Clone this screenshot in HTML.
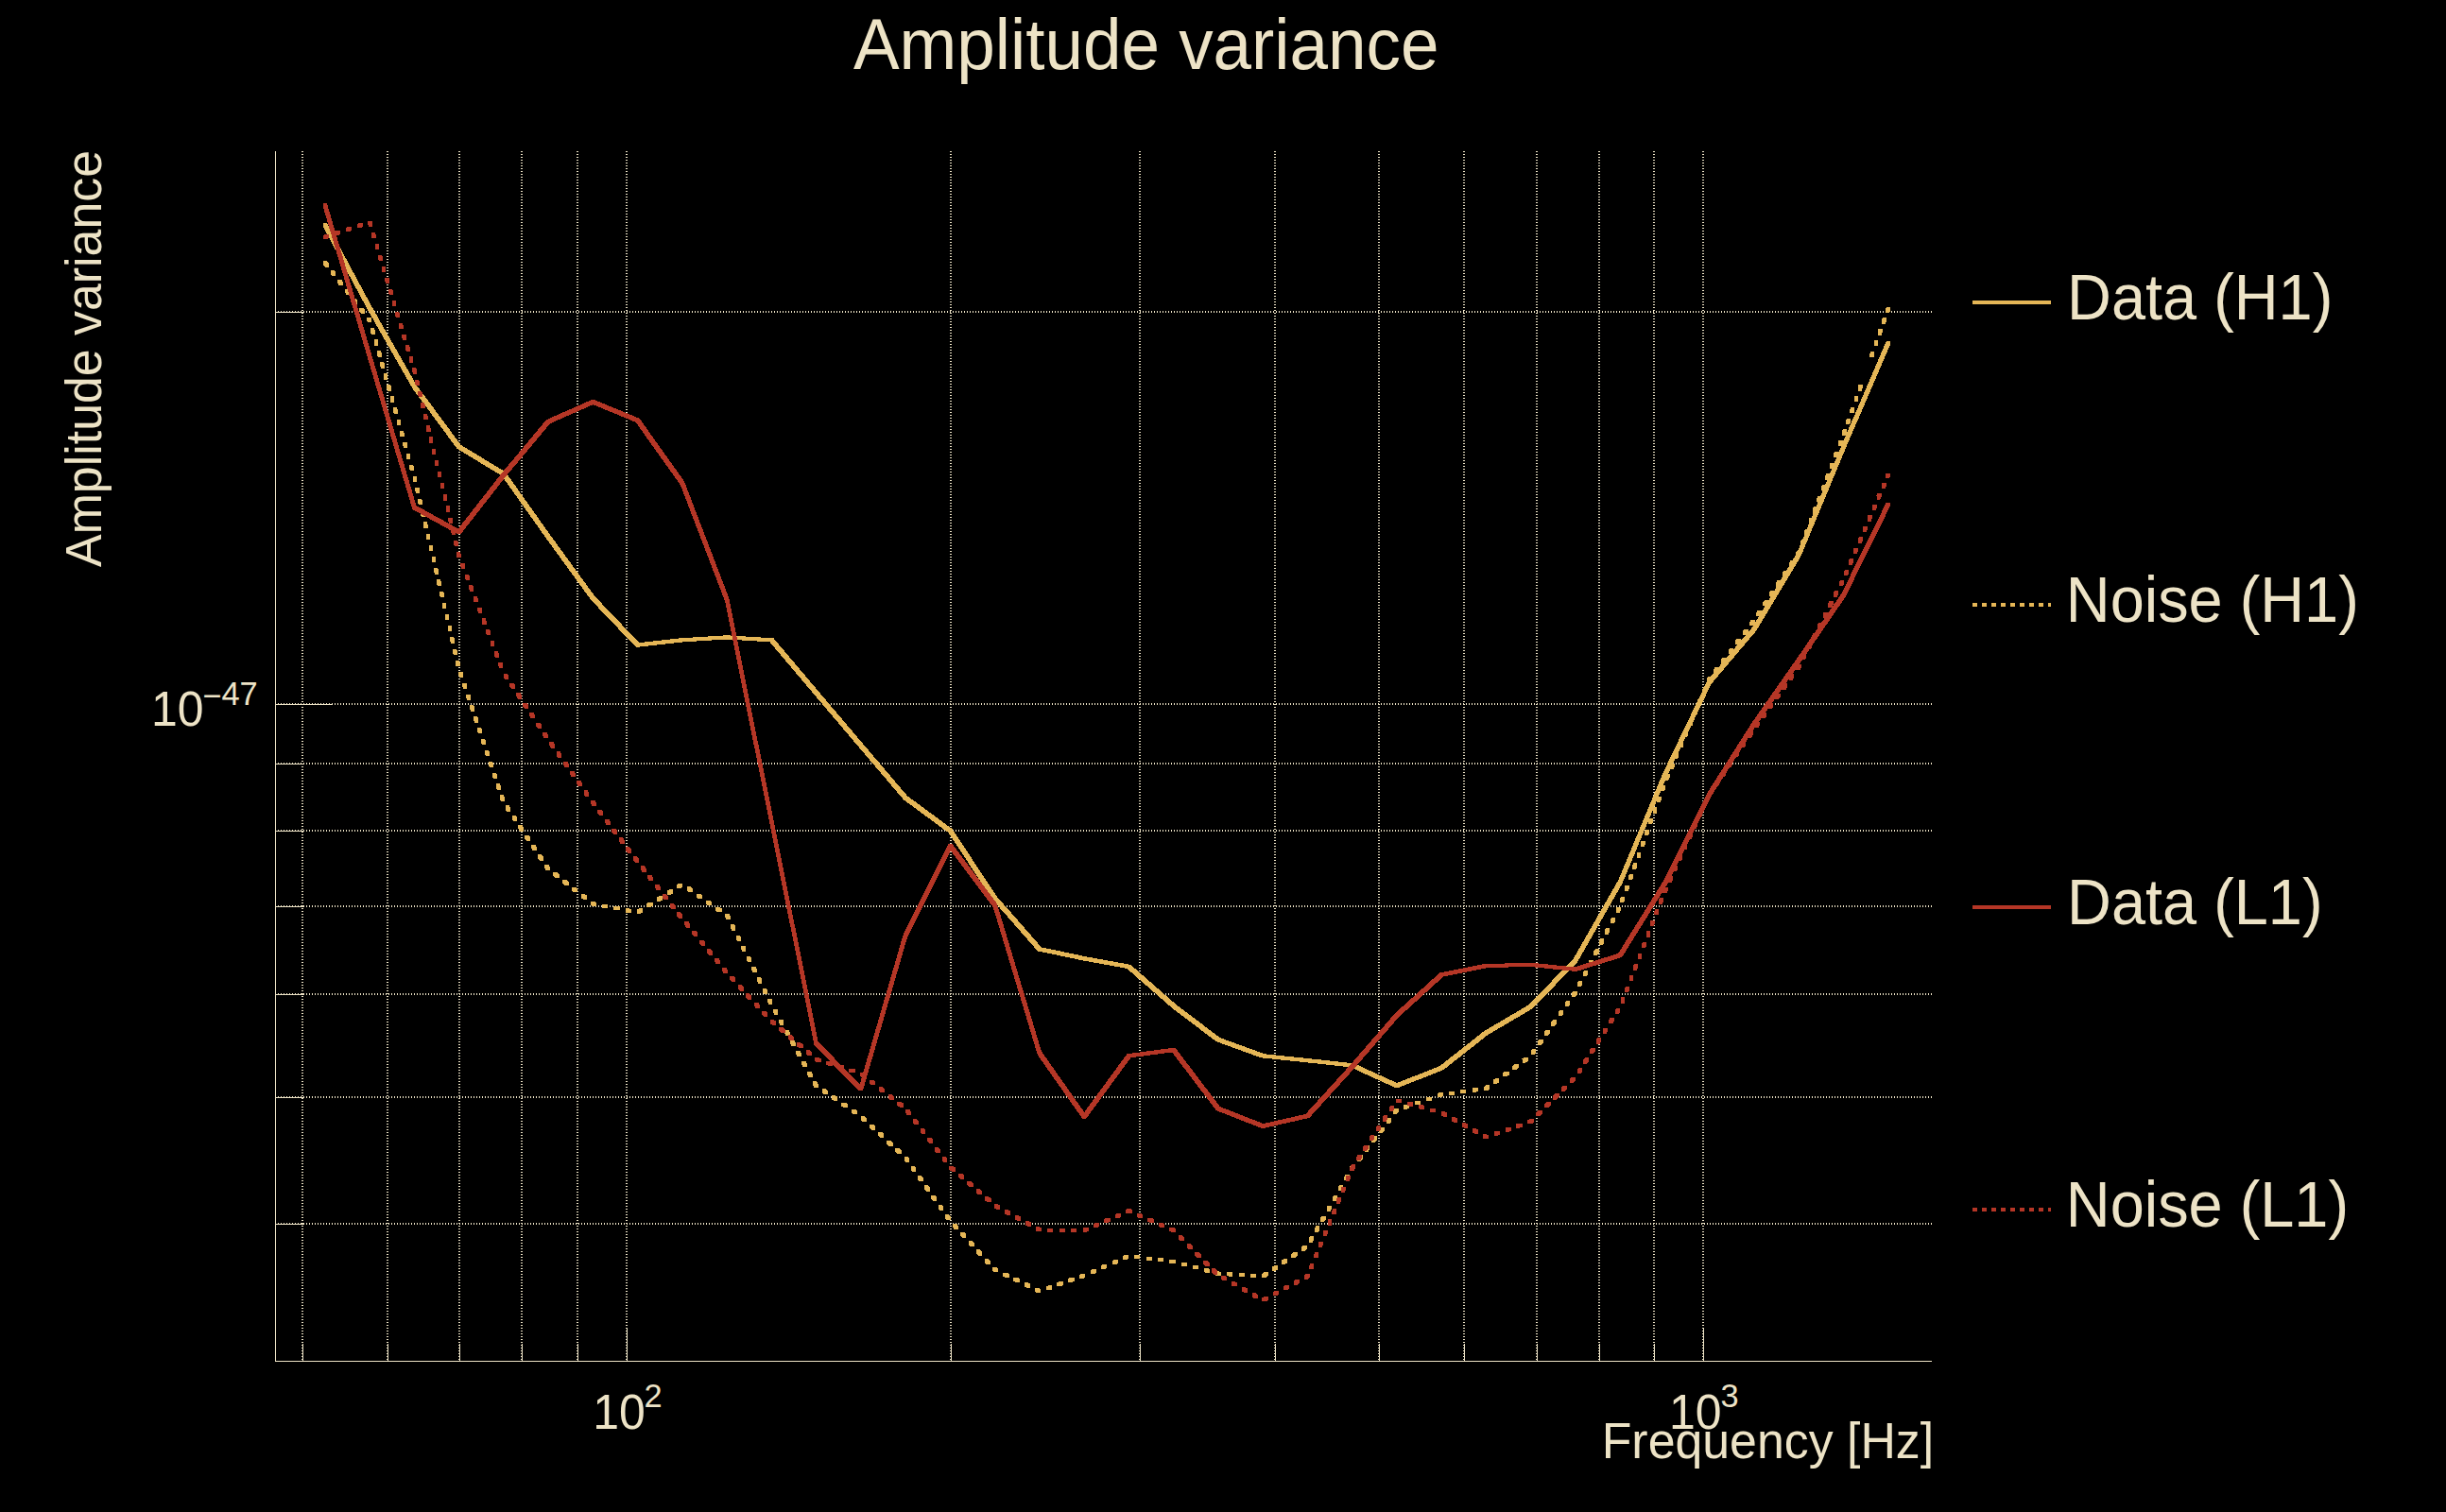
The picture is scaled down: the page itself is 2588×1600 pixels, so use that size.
<!DOCTYPE html>
<html lang="en"><head><meta charset="utf-8"><title>Amplitude variance</title>
<style>
html,body{margin:0;padding:0;background:#000;}
body{width:2588px;height:1600px;overflow:hidden;}
svg{display:block;}
text{font-family:"Liberation Sans",sans-serif;fill:#ede3c6;}
.g{stroke:#ede3c6;stroke-width:2;stroke-dasharray:1 2;fill:none;}
.a{stroke:#ede3c6;stroke-width:1;fill:none;}
.c{fill:none;stroke-width:4;stroke-linejoin:miter;stroke-linecap:butt;}
.d{stroke-dasharray:6.2 6.4;}
</style></head>
<body>
<svg width="2588" height="1600" viewBox="0 0 2588 1600" shape-rendering="crispEdges">
<rect width="2588" height="1600" fill="#000"/>
<g class="g">
<line x1="320" y1="160" x2="320" y2="1440"/>
<line x1="410" y1="160" x2="410" y2="1440"/>
<line x1="486" y1="160" x2="486" y2="1440"/>
<line x1="552" y1="160" x2="552" y2="1440"/>
<line x1="611" y1="160" x2="611" y2="1440"/>
<line x1="663" y1="160" x2="663" y2="1440"/>
<line x1="1006" y1="160" x2="1006" y2="1440"/>
<line x1="1206" y1="160" x2="1206" y2="1440"/>
<line x1="1349" y1="160" x2="1349" y2="1440"/>
<line x1="1459" y1="160" x2="1459" y2="1440"/>
<line x1="1549" y1="160" x2="1549" y2="1440"/>
<line x1="1626" y1="160" x2="1626" y2="1440"/>
<line x1="1692" y1="160" x2="1692" y2="1440"/>
<line x1="1750" y1="160" x2="1750" y2="1440"/>
<line x1="1802" y1="160" x2="1802" y2="1440"/>
<line x1="291" y1="330" x2="2044" y2="330"/>
<line x1="291" y1="745" x2="2044" y2="745"/>
<line x1="291" y1="808" x2="2044" y2="808"/>
<line x1="291" y1="879" x2="2044" y2="879"/>
<line x1="291" y1="959" x2="2044" y2="959"/>
<line x1="291" y1="1052" x2="2044" y2="1052"/>
<line x1="291" y1="1161" x2="2044" y2="1161"/>
<line x1="291" y1="1295" x2="2044" y2="1295"/>
</g>
<g class="a">
<line x1="291.5" y1="160" x2="291.5" y2="1441"/>
<line x1="291" y1="1440.5" x2="2044" y2="1440.5"/>
<line x1="320.5" y1="1422" x2="320.5" y2="1440"/>
<line x1="410.5" y1="1422" x2="410.5" y2="1440"/>
<line x1="486.5" y1="1422" x2="486.5" y2="1440"/>
<line x1="552.5" y1="1422" x2="552.5" y2="1440"/>
<line x1="611.5" y1="1422" x2="611.5" y2="1440"/>
<line x1="663.5" y1="1405" x2="663.5" y2="1440"/>
<line x1="1006.5" y1="1422" x2="1006.5" y2="1440"/>
<line x1="1206.5" y1="1422" x2="1206.5" y2="1440"/>
<line x1="1349.5" y1="1422" x2="1349.5" y2="1440"/>
<line x1="1459.5" y1="1422" x2="1459.5" y2="1440"/>
<line x1="1549.5" y1="1422" x2="1549.5" y2="1440"/>
<line x1="1626.5" y1="1422" x2="1626.5" y2="1440"/>
<line x1="1692.5" y1="1422" x2="1692.5" y2="1440"/>
<line x1="1750.5" y1="1422" x2="1750.5" y2="1440"/>
<line x1="1802.5" y1="1405" x2="1802.5" y2="1440"/>
<line x1="291" y1="330.5" x2="322" y2="330.5"/>
<line x1="291" y1="745.5" x2="352" y2="745.5"/>
<line x1="291" y1="808.5" x2="322" y2="808.5"/>
<line x1="291" y1="879.5" x2="322" y2="879.5"/>
<line x1="291" y1="959.5" x2="322" y2="959.5"/>
<line x1="291" y1="1052.5" x2="322" y2="1052.5"/>
<line x1="291" y1="1161.5" x2="322" y2="1161.5"/>
<line x1="291" y1="1295.5" x2="322" y2="1295.5"/>
</g>
<path fill="#e5b656" d="M341.9,236.1L345.9,236.1L393.1,324L393.1,328L389.1,328L341.9,240.1ZM389.1,324L393.1,324L440.4,407L440.4,411L436.4,411L389.1,328ZM436.4,407L440.4,407L487.6,470.8L487.6,474.8L483.6,474.8L436.4,411ZM483.6,470.8L487.6,470.8L534.9,499.5L534.9,503.5L530.9,503.5L483.6,474.8ZM530.9,499.5L534.9,499.5L582.1,566L582.1,570L578.1,570L530.9,503.5ZM578.1,566L582.1,566L629.4,631L629.4,635L625.4,635L578.1,570ZM625.4,631L629.4,631L676.6,680.5L676.6,684.5L672.6,684.5L625.4,635ZM672.6,680.5L719.9,675.3L723.9,675.3L723.9,679.3L676.6,684.5L672.6,684.5ZM719.9,675.3L767.1,672.4L771.1,672.4L771.1,676.4L723.9,679.3L719.9,679.3ZM767.1,672.4L771.1,672.4L818.4,675.3L818.4,679.3L814.4,679.3L767.1,676.4ZM814.4,675.3L818.4,675.3L865.6,731.1L865.6,735.1L861.6,735.1L814.4,679.3ZM861.6,731.1L865.6,731.1L912.9,786.9L912.9,790.9L908.9,790.9L861.6,735.1ZM908.9,786.9L912.9,786.9L960.1,842.3L960.1,846.3L956.1,846.3L908.9,790.9ZM956.1,842.3L960.1,842.3L1007.4,877.1L1007.4,881.1L1003.4,881.1L956.1,846.3ZM1003.4,877.1L1007.4,877.1L1054.7,948.6L1054.7,952.6L1050.7,952.6L1003.4,881.1ZM1050.7,948.6L1054.7,948.6L1101.9,1002.4L1101.9,1006.4L1097.9,1006.4L1050.7,952.6ZM1097.9,1002.4L1101.9,1002.4L1149.2,1012.3L1149.2,1016.3L1145.2,1016.3L1097.9,1006.4ZM1145.2,1012.3L1149.2,1012.3L1196.4,1020.9L1196.4,1024.9L1192.4,1024.9L1145.2,1016.3ZM1192.4,1020.9L1196.4,1020.9L1243.7,1062.4L1243.7,1066.4L1239.7,1066.4L1192.4,1024.9ZM1239.7,1062.4L1243.7,1062.4L1290.9,1098.2L1290.9,1102.2L1286.9,1102.2L1239.7,1066.4ZM1286.9,1098.2L1290.9,1098.2L1338.2,1115.3L1338.2,1119.3L1334.2,1119.3L1286.9,1102.2ZM1334.2,1115.3L1338.2,1115.3L1385.4,1120.2L1385.4,1124.2L1381.4,1124.2L1334.2,1119.3ZM1381.4,1120.2L1385.4,1120.2L1432.7,1125.3L1432.7,1129.3L1428.7,1129.3L1381.4,1124.2ZM1428.7,1125.3L1432.7,1125.3L1479.9,1146.8L1479.9,1150.8L1475.9,1150.8L1428.7,1129.3ZM1475.9,1146.8L1523.2,1128.2L1527.2,1128.2L1527.2,1132.2L1479.9,1150.8L1475.9,1150.8ZM1523.2,1128.2L1570.4,1091L1574.4,1091L1574.4,1095L1527.2,1132.2L1523.2,1132.2ZM1570.4,1091L1617.7,1063.2L1621.7,1063.2L1621.7,1067.2L1574.4,1095L1570.4,1095ZM1617.7,1063.2L1664.9,1014.3L1668.9,1014.3L1668.9,1018.3L1621.7,1067.2L1617.7,1067.2ZM1664.9,1014.3L1712.2,931.5L1716.2,931.5L1716.2,935.5L1668.9,1018.3L1664.9,1018.3ZM1712.2,931.5L1759.4,818.1L1763.4,818.1L1763.4,822.1L1716.2,935.5L1712.2,935.5ZM1759.4,818.1L1806.7,719.7L1810.7,719.7L1810.7,723.7L1763.4,822.1L1759.4,822.1ZM1806.7,719.7L1853.9,663.9L1857.9,663.9L1857.9,667.9L1810.7,723.7L1806.7,723.7ZM1853.9,663.9L1901.2,585.2L1905.2,585.2L1905.2,589.2L1857.9,667.9L1853.9,667.9ZM1901.2,585.2L1948.4,471.4L1952.4,471.4L1952.4,475.4L1905.2,589.2L1901.2,589.2ZM1948.4,471.4L1995.7,361.2L1999.7,361.2L1999.7,365.2L1952.4,475.4L1948.4,475.4Z"/>
<path fill="#e5b656" d="M341.9,276.2L345.9,276.2L347.7,278.5L347.7,282.5L343.7,282.5L341.9,280.2ZM349.6,286.1L353.6,286.1L355.4,288.4L355.4,292.4L351.4,292.4L349.6,290.1ZM357.3,296L361.3,296L363.1,298.3L363.1,302.3L359.1,302.3L357.3,300ZM365,305.8L369,305.8L370.8,308.1L370.8,312.1L366.8,312.1L365,309.8ZM372.6,315.7L376.6,315.7L378.4,318L378.4,322L374.4,322L372.6,319.7ZM380.3,325.6L384.3,325.6L386.1,327.9L386.1,331.9L382.1,331.9L380.3,329.6ZM388,335.5L392,335.5L393.1,336.9L393.1,340.9L389.1,340.9L388,339.5ZM389.1,336.9L393.1,336.9L393.3,337.4L393.3,341.4L389.3,341.4L389.1,340.9ZM392.1,347.2L396.1,347.2L396.7,349.5L396.7,353.5L392.7,353.5L392.1,351.2ZM395.5,359.2L399.5,359.2L400.2,361.5L400.2,365.5L396.2,365.5L395.5,363.2ZM398.9,371.2L402.9,371.2L403.6,373.5L403.6,377.5L399.6,377.5L398.9,375.2ZM402.4,383.3L406.4,383.3L407,385.6L407,389.6L403,389.6L402.4,387.3ZM405.8,395.3L409.8,395.3L410.4,397.6L410.4,401.6L406.4,401.6L405.8,399.3ZM409.2,407.4L413.2,407.4L413.9,409.7L413.9,413.7L409.9,413.7L409.2,411.4ZM412.6,419.4L416.6,419.4L417.3,421.7L417.3,425.7L413.3,425.7L412.6,423.4ZM416.1,431.4L420.1,431.4L420.7,433.7L420.7,437.7L416.7,437.7L416.1,435.4ZM419.5,443.5L423.5,443.5L424.1,445.8L424.1,449.8L420.1,449.8L419.5,447.5ZM422.9,455.5L426.9,455.5L427.6,457.8L427.6,461.8L423.6,461.8L422.9,459.5ZM426.3,467.5L430.3,467.5L431,469.8L431,473.8L427,473.8L426.3,471.5ZM429.8,479.6L433.8,479.6L434.4,481.9L434.4,485.9L430.4,485.9L429.8,483.6ZM433.2,491.6L437.2,491.6L437.8,493.9L437.8,497.9L433.8,497.9L433.2,495.6ZM436.6,503.7L440.6,503.7L441.1,506L441.1,510L437.1,510L436.6,507.7ZM439.4,515.9L443.4,515.9L444,518.2L444,522.2L440,522.2L439.4,519.9ZM442.3,528L446.3,528L446.8,530.3L446.8,534.3L442.8,534.3L442.3,532ZM445.1,540.2L449.1,540.2L449.6,542.5L449.6,546.5L445.6,546.5L445.1,544.2ZM448,552.4L452,552.4L452.5,554.7L452.5,558.7L448.5,558.7L448,556.4ZM450.8,564.6L454.8,564.6L455.3,566.9L455.3,570.9L451.3,570.9L450.8,568.6ZM453.6,576.8L457.6,576.8L458.2,579.1L458.2,583.1L454.2,583.1L453.6,580.8ZM456.5,589L460.5,589L461,591.3L461,595.3L457,595.3L456.5,593ZM459.3,601.2L463.3,601.2L463.9,603.5L463.9,607.5L459.9,607.5L459.3,605.2ZM462.2,613.4L466.2,613.4L466.7,615.7L466.7,619.7L462.7,619.7L462.2,617.4ZM465,625.5L469,625.5L469.6,627.8L469.6,631.8L465.6,631.8L465,629.5ZM467.9,637.7L471.9,637.7L472.4,640L472.4,644L468.4,644L467.9,641.7ZM470.7,649.9L474.7,649.9L475.2,652.2L475.2,656.2L471.2,656.2L470.7,653.9ZM473.5,662.1L477.5,662.1L478.1,664.4L478.1,668.4L474.1,668.4L473.5,666.1ZM476.4,674.3L480.4,674.3L480.9,676.6L480.9,680.6L476.9,680.6L476.4,678.3ZM479.2,686.5L483.2,686.5L483.8,688.8L483.8,692.8L479.8,692.8L479.2,690.5ZM482.1,698.7L486.1,698.7L486.6,701L486.6,705L482.6,705L482.1,702.7ZM485.4,710.7L489.4,710.7L490.2,713L490.2,717L486.2,717L485.4,714.7ZM489.4,722.6L493.4,722.6L494.2,724.9L494.2,728.9L490.2,728.9L489.4,726.6ZM493.3,734.5L497.3,734.5L498.1,736.8L498.1,740.8L494.1,740.8L493.3,738.5ZM497.3,746.3L501.3,746.3L502.1,748.6L502.1,752.6L498.1,752.6L497.3,750.3ZM501.3,758.2L505.3,758.2L506,760.5L506,764.5L502,764.5L501.3,762.2ZM505.2,770.1L509.2,770.1L510,772.4L510,776.4L506,776.4L505.2,774.1ZM509.2,781.9L513.2,781.9L514,784.2L514,788.2L510,788.2L509.2,785.9ZM513.2,793.8L517.2,793.8L517.9,796.1L517.9,800.1L513.9,800.1L513.2,797.8ZM517.1,805.7L521.1,805.7L521.9,808L521.9,812L517.9,812L517.1,809.7ZM521.1,817.6L525.1,817.6L525.8,819.9L525.8,823.9L521.8,823.9L521.1,821.6ZM525,829.4L529,829.4L529.8,831.7L529.8,835.7L525.8,835.7L525,833.4ZM529,841.3L533,841.3L533.8,843.6L533.8,847.6L529.8,847.6L529,845.3ZM534.5,852.4L538.5,852.4L540.1,854.7L540.1,858.7L536.1,858.7L534.5,856.4ZM541.5,862.8L545.5,862.8L547,865.1L547,869.1L543,869.1L541.5,866.8ZM548.4,873.2L552.4,873.2L554,875.5L554,879.5L550,879.5L548.4,877.2ZM555.4,883.6L559.4,883.6L560.9,885.9L560.9,889.9L556.9,889.9L555.4,887.6ZM562.3,894L566.3,894L567.9,896.3L567.9,900.3L563.9,900.3L562.3,898ZM569.3,904.4L573.3,904.4L574.8,906.7L574.8,910.7L570.8,910.7L569.3,908.4ZM576.2,914.8L580.2,914.8L581.8,917.1L581.8,921.1L577.8,921.1L576.2,918.8ZM585.3,923.3L589.3,923.3L591.6,925.1L591.6,929.1L587.6,929.1L585.3,927.3ZM595.2,930.9L599.2,930.9L601.5,932.7L601.5,936.7L597.5,936.7L595.2,934.9ZM605.1,938.6L609.1,938.6L611.4,940.4L611.4,944.4L607.4,944.4L605.1,942.6ZM615,946.3L619,946.3L621.3,948.1L621.3,952.1L617.3,952.1L615,950.3ZM624.9,954L628.9,954L629.4,954.4L629.4,958.4L625.4,958.4L624.9,958ZM625.4,954.4L629.4,954.4L631,954.7L631,958.7L627,958.7L625.4,958.4ZM637,956.6L641,956.6L643.3,957.1L643.3,961.1L639.3,961.1L637,960.6ZM649.3,959L653.3,959L655.6,959.4L655.6,963.4L651.6,963.4L649.3,963ZM661.6,961.4L665.6,961.4L667.9,961.8L667.9,965.8L663.9,965.8L661.6,965.4ZM673.7,962.8L676,961.4L680,961.4L680,965.4L677.7,966.8L673.7,966.8ZM684.3,956.2L686.6,954.7L690.6,954.7L690.6,958.7L688.3,960.2L684.3,960.2ZM694.9,949.5L697.2,948.1L701.2,948.1L701.2,952.1L698.9,953.5L694.9,953.5ZM705.5,942.9L707.8,941.4L711.8,941.4L711.8,945.4L709.5,946.9L705.5,946.9ZM716.1,936.2L718.4,934.8L722.4,934.8L722.4,938.8L720.1,940.2L716.1,940.2ZM726.5,938.4L730.5,938.4L732.8,940L732.8,944L728.8,944L726.5,942.4ZM736.7,945.5L740.7,945.5L743,947.1L743,951.1L739,951.1L736.7,949.5ZM747,952.7L751,952.7L753.3,954.3L753.3,958.3L749.3,958.3L747,956.7ZM757.3,959.8L761.3,959.8L763.6,961.4L763.6,965.4L759.6,965.4L757.3,963.8ZM767.4,967.1L771.4,967.1L772.5,969.4L772.5,973.4L768.5,973.4L767.4,971.1ZM773,978.3L777,978.3L778.1,980.6L778.1,984.6L774.1,984.6L773,982.3ZM778.6,989.5L782.6,989.5L783.7,991.8L783.7,995.8L779.7,995.8L778.6,993.5ZM784.2,1000.7L788.2,1000.7L789.4,1003L789.4,1007L785.4,1007L784.2,1004.7ZM789.8,1011.9L793.8,1011.9L795,1014.2L795,1018.2L791,1018.2L789.8,1015.9ZM795.4,1023.1L799.4,1023.1L800.6,1025.4L800.6,1029.4L796.6,1029.4L795.4,1027.1ZM801,1034.3L805,1034.3L806.2,1036.6L806.2,1040.6L802.2,1040.6L801,1038.3ZM806.7,1045.5L810.7,1045.5L811.8,1047.8L811.8,1051.8L807.8,1051.8L806.7,1049.5ZM812.3,1056.6L816.3,1056.6L817.4,1058.9L817.4,1062.9L813.4,1062.9L812.3,1060.6ZM818.1,1067.7L822.1,1067.7L823.4,1070L823.4,1074L819.4,1074L818.1,1071.7ZM824.2,1078.7L828.2,1078.7L829.4,1081L829.4,1085L825.4,1085L824.2,1082.7ZM830.2,1089.6L834.2,1089.6L835.5,1091.9L835.5,1095.9L831.5,1095.9L830.2,1093.6ZM836.2,1100.6L840.2,1100.6L841.5,1102.9L841.5,1106.9L837.5,1106.9L836.2,1104.6ZM842.3,1111.5L846.3,1111.5L847.5,1113.8L847.5,1117.8L843.5,1117.8L842.3,1115.5ZM848.3,1122.5L852.3,1122.5L853.6,1124.8L853.6,1128.8L849.6,1128.8L848.3,1126.5ZM854.3,1133.5L858.3,1133.5L859.6,1135.8L859.6,1139.8L855.6,1139.8L854.3,1137.5ZM860.4,1144.4L864.4,1144.4L865.6,1146.7L865.6,1150.7L861.6,1150.7L860.4,1148.4ZM861.6,1146.8L865.6,1146.8L865.7,1146.9L865.7,1150.9L861.7,1150.9L861.6,1150.8ZM869.8,1152.4L873.8,1152.4L876.1,1153.9L876.1,1157.9L872.1,1157.9L869.8,1156.4ZM880.1,1159.4L884.1,1159.4L886.4,1161L886.4,1165L882.4,1165L880.1,1163.4ZM890.4,1166.5L894.4,1166.5L896.7,1168.1L896.7,1172.1L892.7,1172.1L890.4,1170.5ZM900.7,1173.6L904.7,1173.6L907,1175.2L907,1179.2L903,1179.2L900.7,1177.6ZM910.8,1181L914.8,1181L917.1,1183.1L917.1,1187.1L913.1,1187.1L910.8,1185ZM920,1189.5L924,1189.5L926.3,1191.6L926.3,1195.6L922.3,1195.6L920,1193.5ZM929.1,1198L933.1,1198L935.4,1200.2L935.4,1204.2L931.4,1204.2L929.1,1202ZM938.3,1206.6L942.3,1206.6L944.6,1208.7L944.6,1212.7L940.6,1212.7L938.3,1210.6ZM947.4,1215.1L951.4,1215.1L953.7,1217.2L953.7,1221.2L949.7,1221.2L947.4,1219.1ZM956.5,1223.7L960.5,1223.7L962.1,1226L962.1,1230L958.1,1230L956.5,1227.7ZM963.7,1233.9L967.7,1233.9L969.4,1236.2L969.4,1240.2L965.4,1240.2L963.7,1237.9ZM971,1244.1L975,1244.1L976.6,1246.4L976.6,1250.4L972.6,1250.4L971,1248.1ZM978.2,1254.3L982.2,1254.3L983.8,1256.6L983.8,1260.6L979.8,1260.6L978.2,1258.3ZM985.4,1264.5L989.4,1264.5L991.1,1266.8L991.1,1270.8L987.1,1270.8L985.4,1268.5ZM992.7,1274.8L996.7,1274.8L998.3,1277.1L998.3,1281.1L994.3,1281.1L992.7,1278.8ZM999.9,1285L1003.9,1285L1005.5,1287.3L1005.5,1291.3L1001.5,1291.3L999.9,1289ZM1007.8,1294.7L1011.8,1294.7L1013.9,1297L1013.9,1301L1009.9,1301L1007.8,1298.7ZM1016.2,1303.9L1020.2,1303.9L1022.3,1306.2L1022.3,1310.2L1018.3,1310.2L1016.2,1307.9ZM1024.7,1313.1L1028.7,1313.1L1030.8,1315.4L1030.8,1319.4L1026.8,1319.4L1024.7,1317.1ZM1033.2,1322.3L1037.2,1322.3L1039.3,1324.6L1039.3,1328.6L1035.3,1328.6L1033.2,1326.3ZM1041.6,1331.6L1045.6,1331.6L1047.7,1333.9L1047.7,1337.9L1043.7,1337.9L1041.6,1335.6ZM1050.1,1340.8L1054.1,1340.8L1054.7,1341.4L1054.7,1345.4L1050.7,1345.4L1050.1,1344.8ZM1050.7,1341.4L1054.7,1341.4L1056.2,1342.1L1056.2,1346.1L1052.2,1346.1L1050.7,1345.4ZM1061.2,1346.5L1065.2,1346.5L1067.5,1347.6L1067.5,1351.6L1063.5,1351.6L1061.2,1350.5ZM1072.4,1351.9L1076.4,1351.9L1078.7,1353.1L1078.7,1357.1L1074.7,1357.1L1072.4,1355.9ZM1083.7,1357.4L1087.7,1357.4L1090,1358.5L1090,1362.5L1086,1362.5L1083.7,1361.4ZM1094.9,1362.9L1098.9,1362.9L1101.2,1364L1101.2,1368L1097.2,1368L1094.9,1366.9ZM1106.6,1361.2L1108.9,1360.4L1112.9,1360.4L1112.9,1364.4L1110.6,1365.2L1106.6,1365.2ZM1118.4,1357.1L1120.7,1356.3L1124.7,1356.3L1124.7,1360.3L1122.4,1361.1L1118.4,1361.1ZM1130.2,1352.9L1132.5,1352.1L1136.5,1352.1L1136.5,1356.1L1134.2,1356.9L1130.2,1356.9ZM1142,1348.8L1144.3,1348L1148.3,1348L1148.3,1352L1146,1352.8L1142,1352.8ZM1153.6,1344L1155.9,1343L1159.9,1343L1159.9,1347L1157.6,1348L1153.6,1348ZM1165.1,1339L1167.4,1338L1171.4,1338L1171.4,1342L1169.1,1343L1165.1,1343ZM1176.5,1334L1178.8,1333L1182.8,1333L1182.8,1337L1180.5,1338L1176.5,1338ZM1188,1329L1190.3,1328L1194.3,1328L1194.3,1332L1192,1333L1188,1333ZM1200.1,1328L1204.1,1328L1206.4,1328.3L1206.4,1332.3L1202.4,1332.3L1200.1,1332ZM1212.5,1329.5L1216.5,1329.5L1218.8,1329.8L1218.8,1333.8L1214.8,1333.8L1212.5,1333.5ZM1224.9,1331L1228.9,1331L1231.2,1331.3L1231.2,1335.3L1227.2,1335.3L1224.9,1335ZM1237.3,1332.5L1241.3,1332.5L1243.6,1332.8L1243.6,1336.8L1239.6,1336.8L1237.3,1336.5ZM1239.7,1332.8L1243.7,1332.8L1243.7,1336.8L1239.7,1336.8ZM1249.5,1335.5L1253.5,1335.5L1255.8,1336.1L1255.8,1340.1L1251.8,1340.1L1249.5,1339.5ZM1261.5,1338.8L1265.5,1338.8L1267.8,1339.4L1267.8,1343.4L1263.8,1343.4L1261.5,1342.8ZM1273.6,1342.1L1277.6,1342.1L1279.9,1342.7L1279.9,1346.7L1275.9,1346.7L1273.6,1346.1ZM1285.7,1345.4L1289.7,1345.4L1290.9,1345.7L1290.9,1349.7L1286.9,1349.7L1285.7,1349.4ZM1286.9,1345.7L1290.9,1345.7L1292,1345.8L1292,1349.8L1288,1349.8L1286.9,1349.7ZM1298.1,1346.4L1302.1,1346.4L1304.4,1346.5L1304.4,1350.5L1300.4,1350.5L1298.1,1350.4ZM1310.6,1347.2L1314.6,1347.2L1316.9,1347.3L1316.9,1351.3L1312.9,1351.3L1310.6,1351.2ZM1323.1,1347.9L1327.1,1347.9L1329.4,1348.1L1329.4,1352.1L1325.4,1352.1L1323.1,1351.9ZM1335.4,1347.8L1337.7,1346.2L1341.7,1346.2L1341.7,1350.2L1339.4,1351.8L1335.4,1351.8ZM1345.7,1340.7L1348,1339.2L1352,1339.2L1352,1343.2L1349.7,1344.7L1345.7,1344.7ZM1356.1,1333.7L1358.4,1332.1L1362.4,1332.1L1362.4,1336.1L1360.1,1337.7L1356.1,1337.7ZM1366.4,1326.7L1368.7,1325.1L1372.7,1325.1L1372.7,1329.1L1370.4,1330.7L1366.4,1330.7ZM1376.8,1319.6L1379.1,1318.1L1383.1,1318.1L1383.1,1322.1L1380.8,1323.6L1376.8,1323.6ZM1384.8,1310.5L1386.2,1308.2L1390.2,1308.2L1390.2,1312.2L1388.8,1314.5L1384.8,1314.5ZM1391.1,1299.6L1392.4,1297.3L1396.4,1297.3L1396.4,1301.3L1395.1,1303.6L1391.1,1303.6ZM1397.3,1288.8L1398.6,1286.5L1402.6,1286.5L1402.6,1290.5L1401.3,1292.8L1397.3,1292.8ZM1403.5,1277.9L1404.8,1275.6L1408.8,1275.6L1408.8,1279.6L1407.5,1281.9L1403.5,1281.9ZM1409.7,1267.1L1411.1,1264.8L1415.1,1264.8L1415.1,1268.8L1413.7,1271.1L1409.7,1271.1ZM1416,1256.2L1417.3,1253.9L1421.3,1253.9L1421.3,1257.9L1420,1260.2L1416,1260.2ZM1422.2,1245.4L1423.5,1243.1L1427.5,1243.1L1427.5,1247.1L1426.2,1249.4L1422.2,1249.4ZM1428.4,1234.5L1428.7,1234.1L1432.7,1234.1L1432.7,1238.1L1432.4,1238.5L1428.4,1238.5ZM1428.7,1234.1L1430.1,1232.2L1434.1,1232.2L1434.1,1236.2L1432.7,1238.1L1428.7,1238.1ZM1436,1224.5L1437.8,1222.2L1441.8,1222.2L1441.8,1226.2L1440,1228.5L1436,1228.5ZM1443.6,1214.6L1445.4,1212.3L1449.4,1212.3L1449.4,1216.3L1447.6,1218.6L1443.6,1218.6ZM1451.2,1204.7L1453,1202.4L1457,1202.4L1457,1206.4L1455.2,1208.7L1451.2,1208.7ZM1458.9,1194.8L1460.6,1192.5L1464.6,1192.5L1464.6,1196.5L1462.9,1198.8L1458.9,1198.8ZM1466.5,1184.8L1468.3,1182.5L1472.3,1182.5L1472.3,1186.5L1470.5,1188.8L1466.5,1188.8ZM1474.1,1174.9L1475.9,1172.6L1479.9,1172.6L1479.9,1176.6L1478.1,1178.9L1474.1,1178.9ZM1485,1169.5L1487.3,1168.7L1491.3,1168.7L1491.3,1172.7L1489,1173.5L1485,1173.5ZM1496.8,1165.4L1499.1,1164.6L1503.1,1164.6L1503.1,1168.6L1500.8,1169.4L1496.8,1169.4ZM1508.6,1161.3L1510.9,1160.5L1514.9,1160.5L1514.9,1164.5L1512.6,1165.3L1508.6,1165.3ZM1520.5,1157.2L1522.8,1156.4L1526.8,1156.4L1526.8,1160.4L1524.5,1161.2L1520.5,1161.2ZM1532.7,1155L1535,1154.6L1539,1154.6L1539,1158.6L1536.7,1159L1532.7,1159ZM1545.1,1153.2L1547.4,1152.9L1551.4,1152.9L1551.4,1156.9L1549.1,1157.2L1545.1,1157.2ZM1557.5,1151.5L1559.8,1151.2L1563.8,1151.2L1563.8,1155.2L1561.5,1155.5L1557.5,1155.5ZM1569.9,1149.8L1570.4,1149.7L1574.4,1149.7L1574.4,1153.7L1573.9,1153.8L1569.9,1153.8ZM1570.4,1149.7L1572.3,1148.3L1576.3,1148.3L1576.3,1152.3L1574.4,1153.7L1570.4,1153.7ZM1580.1,1142.6L1582.4,1140.9L1586.4,1140.9L1586.4,1144.9L1584.1,1146.6L1580.1,1146.6ZM1590.2,1135.3L1592.5,1133.6L1596.5,1133.6L1596.5,1137.6L1594.2,1139.3L1590.2,1139.3ZM1600.4,1127.9L1602.7,1126.2L1606.7,1126.2L1606.7,1130.2L1604.4,1131.9L1600.4,1131.9ZM1610.5,1120.5L1612.8,1118.9L1616.8,1118.9L1616.8,1122.9L1614.5,1124.5L1610.5,1124.5ZM1619.7,1112.3L1621.4,1110L1625.4,1110L1625.4,1114L1623.7,1116.3L1619.7,1116.3ZM1626.9,1102.1L1628.6,1099.8L1632.6,1099.8L1632.6,1103.8L1630.9,1106.1L1626.9,1106.1ZM1634.1,1091.9L1635.8,1089.6L1639.8,1089.6L1639.8,1093.6L1638.1,1095.9L1634.1,1095.9ZM1641.3,1081.6L1643,1079.3L1647,1079.3L1647,1083.3L1645.3,1085.6L1641.3,1085.6ZM1648.5,1071.4L1650.2,1069.1L1654.2,1069.1L1654.2,1073.1L1652.5,1075.4L1648.5,1075.4ZM1655.7,1061.1L1657.4,1058.8L1661.4,1058.8L1661.4,1062.8L1659.7,1065.1L1655.7,1065.1ZM1662.9,1050.9L1664.5,1048.6L1668.5,1048.6L1668.5,1052.6L1666.9,1054.9L1662.9,1054.9ZM1669.1,1040L1670.3,1037.7L1674.3,1037.7L1674.3,1041.7L1673.1,1044L1669.1,1044ZM1674.9,1028.9L1676.1,1026.6L1680.1,1026.6L1680.1,1030.6L1678.9,1032.9L1674.9,1032.9ZM1680.6,1017.8L1681.8,1015.5L1685.8,1015.5L1685.8,1019.5L1684.6,1021.8L1680.6,1021.8ZM1686.4,1006.7L1687.6,1004.4L1691.6,1004.4L1691.6,1008.4L1690.4,1010.7L1686.4,1010.7ZM1692.2,995.6L1693.4,993.3L1697.4,993.3L1697.4,997.3L1696.2,999.6L1692.2,999.6ZM1698,984.5L1699.1,982.2L1703.1,982.2L1703.1,986.2L1702,988.5L1698,988.5ZM1703.7,973.4L1704.9,971.1L1708.9,971.1L1708.9,975.1L1707.7,977.4L1703.7,977.4ZM1709.5,962.3L1710.7,960L1714.7,960L1714.7,964L1713.5,966.3L1709.5,966.3ZM1714.4,950.8L1715.3,948.5L1719.3,948.5L1719.3,952.5L1718.4,954.8L1714.4,954.8ZM1718.7,939.1L1719.5,936.8L1723.5,936.8L1723.5,940.8L1722.7,943.1L1718.7,943.1ZM1723,927.3L1723.8,925L1727.8,925L1727.8,929L1727,931.3L1723,931.3ZM1727.2,915.5L1728,913.2L1732,913.2L1732,917.2L1731.2,919.5L1727.2,919.5ZM1731.5,903.8L1732.3,901.5L1736.3,901.5L1736.3,905.5L1735.5,907.8L1731.5,907.8ZM1735.7,892L1736.5,889.7L1740.5,889.7L1740.5,893.7L1739.7,896L1735.7,896ZM1740,880.2L1740.8,877.9L1744.8,877.9L1744.8,881.9L1744,884.2L1740,884.2ZM1744.2,868.4L1745,866.1L1749,866.1L1749,870.1L1748.2,872.4L1744.2,872.4ZM1748.5,856.7L1749.3,854.4L1753.3,854.4L1753.3,858.4L1752.5,860.7L1748.5,860.7ZM1752.7,844.9L1753.5,842.6L1757.5,842.6L1757.5,846.6L1756.7,848.9L1752.7,848.9ZM1757,833.1L1757.8,830.8L1761.8,830.8L1761.8,834.8L1761,837.1L1757,837.1ZM1761.5,821.5L1762.5,819.2L1766.5,819.2L1766.5,823.2L1765.5,825.5L1761.5,825.5ZM1766.5,810L1767.5,807.7L1771.5,807.7L1771.5,811.7L1770.5,814L1766.5,814ZM1771.4,798.5L1772.4,796.2L1776.4,796.2L1776.4,800.2L1775.4,802.5L1771.4,802.5ZM1776.4,787L1777.4,784.7L1781.4,784.7L1781.4,788.7L1780.4,791L1776.4,791ZM1781.3,775.5L1782.3,773.2L1786.3,773.2L1786.3,777.2L1785.3,779.5L1781.3,779.5ZM1786.3,764L1787.3,761.7L1791.3,761.7L1791.3,765.7L1790.3,768L1786.3,768ZM1791.2,752.5L1792.2,750.2L1796.2,750.2L1796.2,754.2L1795.2,756.5L1791.2,756.5ZM1796.2,741L1797.2,738.7L1801.2,738.7L1801.2,742.7L1800.2,745L1796.2,745ZM1801.2,729.5L1802.1,727.2L1806.1,727.2L1806.1,731.2L1805.2,733.5L1801.2,733.5ZM1806.1,718L1806.7,716.8L1810.7,716.8L1810.7,720.8L1810.1,722L1806.1,722ZM1806.7,716.8L1807.6,715.6L1811.6,715.6L1811.6,719.6L1810.7,720.8L1806.7,720.8ZM1813.4,707.9L1815.2,705.6L1819.2,705.6L1819.2,709.6L1817.4,711.9L1813.4,711.9ZM1821,698L1822.7,695.7L1826.7,695.7L1826.7,699.7L1825,702L1821,702ZM1828.6,688L1830.3,685.7L1834.3,685.7L1834.3,689.7L1832.6,692L1828.6,692ZM1836.1,678L1837.9,675.7L1841.9,675.7L1841.9,679.7L1840.1,682L1836.1,682ZM1843.7,668.1L1845.5,665.8L1849.5,665.8L1849.5,669.8L1847.7,672.1L1843.7,672.1ZM1851.3,658.1L1853,655.8L1857,655.8L1857,659.8L1855.3,662.1L1851.3,662.1ZM1858.4,647.8L1859.9,645.5L1863.9,645.5L1863.9,649.5L1862.4,651.8L1858.4,651.8ZM1865.3,637.4L1866.8,635.1L1870.8,635.1L1870.8,639.1L1869.3,641.4L1865.3,641.4ZM1872.2,626.9L1873.7,624.6L1877.7,624.6L1877.7,628.6L1876.2,630.9L1872.2,630.9ZM1879.1,616.5L1880.6,614.2L1884.6,614.2L1884.6,618.2L1883.1,620.5L1879.1,620.5ZM1886,606L1887.5,603.7L1891.5,603.7L1891.5,607.7L1890,610L1886,610ZM1892.9,595.6L1894.4,593.3L1898.4,593.3L1898.4,597.3L1896.9,599.6L1892.9,599.6ZM1899.7,585.1L1901.2,583L1905.2,583L1905.2,587L1903.7,589.1L1899.7,589.1ZM1904.7,573.7L1905.6,571.4L1909.6,571.4L1909.6,575.4L1908.7,577.7L1904.7,577.7ZM1909.1,562L1910,559.7L1914,559.7L1914,563.7L1913.1,566L1909.1,566ZM1913.6,550.3L1914.4,548L1918.4,548L1918.4,552L1917.6,554.3L1913.6,554.3ZM1918,538.6L1918.9,536.3L1922.9,536.3L1922.9,540.3L1922,542.6L1918,542.6ZM1922.4,526.9L1923.3,524.6L1927.3,524.6L1927.3,528.6L1926.4,530.9L1922.4,530.9ZM1926.9,515.2L1927.8,512.9L1931.8,512.9L1931.8,516.9L1930.9,519.2L1926.9,519.2ZM1931.3,503.5L1932.2,501.2L1936.2,501.2L1936.2,505.2L1935.3,507.5L1931.3,507.5ZM1935.8,491.8L1936.6,489.5L1940.6,489.5L1940.6,493.5L1939.8,495.8L1935.8,495.8ZM1940.2,480.1L1941.1,477.8L1945.1,477.8L1945.1,481.8L1944.2,484.1L1940.2,484.1ZM1944.6,468.4L1945.5,466.1L1949.5,466.1L1949.5,470.1L1948.6,472.4L1944.6,472.4ZM1949,456.7L1949.9,454.4L1953.9,454.4L1953.9,458.4L1953,460.7L1949,460.7ZM1953.2,444.9L1954.1,442.6L1958.1,442.6L1958.1,446.6L1957.2,448.9L1953.2,448.9ZM1957.4,433.1L1958.2,430.8L1962.2,430.8L1962.2,434.8L1961.4,437.1L1957.4,437.1ZM1961.6,421.3L1962.4,419L1966.4,419L1966.4,423L1965.6,425.3L1961.6,425.3ZM1965.8,409.5L1966.6,407.2L1970.6,407.2L1970.6,411.2L1969.8,413.5L1965.8,413.5ZM1978.4,374.1L1979.2,371.8L1983.2,371.8L1983.2,375.8L1982.4,378.1L1978.4,378.1ZM1982.5,362.3L1983.4,360L1987.4,360L1987.4,364L1986.5,366.3L1982.5,366.3ZM1986.7,350.5L1987.5,348.2L1991.5,348.2L1991.5,352.2L1990.7,354.5L1986.7,354.5ZM1990.9,338.7L1991.7,336.4L1995.7,336.4L1995.7,340.4L1994.9,342.7L1990.9,342.7ZM1995.1,326.9L1995.7,325.4L1999.7,325.4L1999.7,329.4L1999.1,330.9L1995.1,330.9Z"/>
<path fill="#b53626" d="M341.9,215.2L345.9,215.2L393.1,375.1L393.1,379.1L389.1,379.1L341.9,219.2ZM389.1,375.1L393.1,375.1L440.4,535L440.4,539L436.4,539L389.1,379.1ZM436.4,535L440.4,535L487.6,561L487.6,565L483.6,565L436.4,539ZM483.6,561L530.9,500.6L534.9,500.6L534.9,504.6L487.6,565L483.6,565ZM530.9,500.6L578.1,444.2L582.1,444.2L582.1,448.2L534.9,504.6L530.9,504.6ZM578.1,444.2L625.4,423.3L629.4,423.3L629.4,427.3L582.1,448.2L578.1,448.2ZM625.4,423.3L629.4,423.3L676.6,442.8L676.6,446.8L672.6,446.8L625.4,427.3ZM672.6,442.8L676.6,442.8L723.9,509.2L723.9,513.2L719.9,513.2L672.6,446.8ZM719.9,509.2L723.9,509.2L771.1,632.4L771.1,636.4L767.1,636.4L719.9,513.2ZM767.1,632.4L771.1,632.4L818.4,867.4L818.4,871.4L814.4,871.4L767.1,636.4ZM814.4,867.4L818.4,867.4L865.6,1102.4L865.6,1106.4L861.6,1106.4L814.4,871.4ZM861.6,1102.4L865.6,1102.4L912.9,1150.2L912.9,1154.2L908.9,1154.2L861.6,1106.4ZM908.9,1150.2L956.1,987.5L960.1,987.5L960.1,991.5L912.9,1154.2L908.9,1154.2ZM956.1,987.5L1003.4,892.8L1007.4,892.8L1007.4,896.8L960.1,991.5L956.1,991.5ZM1003.4,892.8L1007.4,892.8L1054.7,955.8L1054.7,959.8L1050.7,959.8L1003.4,896.8ZM1050.7,955.8L1054.7,955.8L1101.9,1112.5L1101.9,1116.5L1097.9,1116.5L1050.7,959.8ZM1097.9,1112.5L1101.9,1112.5L1149.2,1179.7L1149.2,1183.7L1145.2,1183.7L1097.9,1116.5ZM1145.2,1179.7L1192.4,1115.3L1196.4,1115.3L1196.4,1119.3L1149.2,1183.7L1145.2,1183.7ZM1192.4,1115.3L1239.7,1109L1243.7,1109L1243.7,1113L1196.4,1119.3L1192.4,1119.3ZM1239.7,1109L1243.7,1109L1290.9,1171.1L1290.9,1175.1L1286.9,1175.1L1239.7,1113ZM1286.9,1171.1L1290.9,1171.1L1338.2,1189.7L1338.2,1193.7L1334.2,1193.7L1286.9,1175.1ZM1334.2,1189.7L1381.4,1178.9L1385.4,1178.9L1385.4,1182.9L1338.2,1193.7L1334.2,1193.7ZM1381.4,1178.9L1428.7,1126.8L1432.7,1126.8L1432.7,1130.8L1385.4,1182.9L1381.4,1182.9ZM1428.7,1126.8L1475.9,1072.4L1479.9,1072.4L1479.9,1076.4L1432.7,1130.8L1428.7,1130.8ZM1475.9,1072.4L1523.2,1029.5L1527.2,1029.5L1527.2,1033.5L1479.9,1076.4L1475.9,1076.4ZM1523.2,1029.5L1570.4,1020L1574.4,1020L1574.4,1024L1527.2,1033.5L1523.2,1033.5ZM1570.4,1020L1617.7,1018.9L1621.7,1018.9L1621.7,1022.9L1574.4,1024L1570.4,1024ZM1617.7,1018.9L1621.7,1018.9L1668.9,1023.7L1668.9,1027.7L1664.9,1027.7L1617.7,1022.9ZM1664.9,1023.7L1712.2,1008.9L1716.2,1008.9L1716.2,1012.9L1668.9,1027.7L1664.9,1027.7ZM1712.2,1008.9L1759.4,932.9L1763.4,932.9L1763.4,936.9L1716.2,1012.9L1712.2,1012.9ZM1759.4,932.9L1806.7,838.4L1810.7,838.4L1810.7,842.4L1763.4,936.9L1759.4,936.9ZM1806.7,838.4L1853.9,764.3L1857.9,764.3L1857.9,768.3L1810.7,842.4L1806.7,842.4ZM1853.9,764.3L1901.2,696.8L1905.2,696.8L1905.2,700.8L1857.9,768.3L1853.9,768.3ZM1901.2,696.8L1948.4,628L1952.4,628L1952.4,632L1905.2,700.8L1901.2,700.8ZM1948.4,628L1995.7,532L1999.7,532L1999.7,536L1952.4,632L1948.4,632Z"/>
<path fill="#b53626" d="M341.9,248.7L344.2,248L348.2,248L348.2,252L345.9,252.7L341.9,252.7ZM353.8,244.8L356.1,244.1L360.1,244.1L360.1,248.1L357.8,248.8L353.8,248.8ZM365.7,240.9L368,240.2L372,240.2L372,244.2L369.7,244.9L365.7,244.9ZM377.6,237.1L379.9,236.3L383.9,236.3L383.9,240.3L381.6,241.1L377.6,241.1ZM389.3,233.6L393.3,233.6L393.9,235.9L393.9,239.9L389.9,239.9L389.3,237.6ZM392.9,245.6L396.9,245.6L397.6,247.9L397.6,251.9L393.6,251.9L392.9,249.6ZM396.5,257.6L400.5,257.6L401.2,259.9L401.2,263.9L397.2,263.9L396.5,261.6ZM400.1,269.6L404.1,269.6L404.8,271.9L404.8,275.9L400.8,275.9L400.1,273.6ZM403.7,281.6L407.7,281.6L408.4,283.9L408.4,287.9L404.4,287.9L403.7,285.6ZM407.3,293.6L411.3,293.6L412,295.9L412,299.9L408,299.9L407.3,297.6ZM411,305.5L415,305.5L415.7,307.8L415.7,311.8L411.7,311.8L411,309.5ZM414.6,317.5L418.6,317.5L419.3,319.8L419.3,323.8L415.3,323.8L414.6,321.5ZM418.2,329.5L422.2,329.5L422.9,331.8L422.9,335.8L418.9,335.8L418.2,333.5ZM421.8,341.5L425.8,341.5L426.5,343.8L426.5,347.8L422.5,347.8L421.8,345.5ZM425.4,353.5L429.4,353.5L430.1,355.8L430.1,359.8L426.1,359.8L425.4,357.5ZM429,365.4L433,365.4L433.7,367.7L433.7,371.7L429.7,371.7L429,369.4ZM432.7,377.4L436.7,377.4L437.4,379.7L437.4,383.7L433.4,383.7L432.7,381.4ZM436.3,389.4L440.3,389.4L440.4,389.8L440.4,393.8L436.4,393.8L436.3,393.4ZM436.4,389.8L440.4,389.8L440.9,391.7L440.9,395.7L436.9,395.7L436.4,393.8ZM439.2,401.6L443.2,401.6L443.8,403.9L443.8,407.9L439.8,407.9L439.2,405.6ZM442.2,413.7L446.2,413.7L446.7,416L446.7,420L442.7,420L442.2,417.7ZM445.1,425.9L449.1,425.9L449.6,428.2L449.6,432.2L445.6,432.2L445.1,429.9ZM448,438.1L452,438.1L452.6,440.4L452.6,444.4L448.6,444.4L448,442.1ZM451,450.2L455,450.2L455.5,452.5L455.5,456.5L451.5,456.5L451,454.2ZM453.9,462.4L457.9,462.4L458.4,464.7L458.4,468.7L454.4,468.7L453.9,466.4ZM456.8,474.6L460.8,474.6L461.4,476.9L461.4,480.9L457.4,480.9L456.8,478.6ZM459.7,486.7L463.7,486.7L464.3,489L464.3,493L460.3,493L459.7,490.7ZM462.7,498.9L466.7,498.9L467.2,501.2L467.2,505.2L463.2,505.2L462.7,502.9ZM465.6,511.1L469.6,511.1L470.2,513.4L470.2,517.4L466.2,517.4L465.6,515.1ZM468.5,523.2L472.5,523.2L473.1,525.5L473.1,529.5L469.1,529.5L468.5,527.2ZM471.5,535.4L475.5,535.4L476,537.7L476,541.7L472,541.7L471.5,539.4ZM474.4,547.6L478.4,547.6L478.9,549.9L478.9,553.9L474.9,553.9L474.4,551.6ZM477.3,559.7L481.3,559.7L481.9,562L481.9,566L477.9,566L477.3,563.7ZM480.3,571.9L484.3,571.9L484.8,574.2L484.8,578.2L480.8,578.2L480.3,575.9ZM483.2,584.1L487.2,584.1L487.6,586L487.6,590L483.6,590L483.2,588.1ZM483.6,586L487.6,586L487.8,586.4L487.8,590.4L483.8,590.4L483.6,590ZM487.4,595.8L491.4,595.8L492.3,598.1L492.3,602.1L488.3,602.1L487.4,599.8ZM491.8,607.5L495.8,607.5L496.7,609.8L496.7,613.8L492.7,613.8L491.8,611.5ZM496.3,619.2L500.3,619.2L501.2,621.5L501.2,625.5L497.2,625.5L496.3,623.2ZM500.7,630.9L504.7,630.9L505.6,633.2L505.6,637.2L501.6,637.2L500.7,634.9ZM505.2,642.6L509.2,642.6L510.1,644.9L510.1,648.9L506.1,648.9L505.2,646.6ZM509.6,654.3L513.6,654.3L514.5,656.6L514.5,660.6L510.5,660.6L509.6,658.3ZM514.1,666L518.1,666L519,668.3L519,672.3L515,672.3L514.1,670ZM518.5,677.7L522.5,677.7L523.4,680L523.4,684L519.4,684L518.5,681.7ZM523,689.4L527,689.4L527.9,691.7L527.9,695.7L523.9,695.7L523,693.4ZM527.4,701.1L531.4,701.1L532.3,703.4L532.3,707.4L528.3,707.4L527.4,705.1ZM532.5,712.5L536.5,712.5L538,714.8L538,718.8L534,718.8L532.5,716.5ZM539.4,722.9L543.4,722.9L545,725.2L545,729.2L541,729.2L539.4,726.9ZM546.4,733.3L550.4,733.3L551.9,735.6L551.9,739.6L547.9,739.6L546.4,737.3ZM553.4,743.7L557.4,743.7L558.9,746L558.9,750L554.9,750L553.4,747.7ZM560.4,754.1L564.4,754.1L565.9,756.4L565.9,760.4L561.9,760.4L560.4,758.1ZM567.3,764.5L571.3,764.5L572.9,766.8L572.9,770.8L568.9,770.8L567.3,768.5ZM574.3,774.9L578.3,774.9L579.8,777.2L579.8,781.2L575.8,781.2L574.3,778.9ZM581.4,785.2L585.4,785.2L587,787.5L587,791.5L583,791.5L581.4,789.2ZM588.6,795.4L592.6,795.4L594.3,797.7L594.3,801.7L590.3,801.7L588.6,799.4ZM595.9,805.6L599.9,805.6L601.5,807.9L601.5,811.9L597.5,811.9L595.9,809.6ZM603.1,815.8L607.1,815.8L608.7,818.1L608.7,822.1L604.7,822.1L603.1,819.8ZM610.3,826L614.3,826L616,828.3L616,832.3L612,832.3L610.3,830ZM617.6,836.2L621.6,836.2L623.2,838.5L623.2,842.5L619.2,842.5L617.6,840.2ZM624.8,846.5L628.8,846.5L629.4,847.3L629.4,851.3L625.4,851.3L624.8,850.5ZM625.4,847.3L629.4,847.3L630.5,848.8L630.5,852.8L626.5,852.8L625.4,851.3ZM632.3,856.5L636.3,856.5L638,858.8L638,862.8L634,862.8L632.3,860.5ZM639.8,866.5L643.8,866.5L645.6,868.8L645.6,872.8L641.6,872.8L639.8,870.5ZM647.4,876.5L651.4,876.5L653.1,878.8L653.1,882.8L649.1,882.8L647.4,880.5ZM654.9,886.4L658.9,886.4L660.6,888.7L660.6,892.7L656.6,892.7L654.9,890.4ZM662.4,896.4L666.4,896.4L668.2,898.7L668.2,902.7L664.2,902.7L662.4,900.4ZM670,906.4L674,906.4L675.7,908.7L675.7,912.7L671.7,912.7L670,910.4ZM677.6,916.3L681.6,916.3L683.5,918.6L683.5,922.6L679.5,922.6L677.6,920.3ZM685.4,926.1L689.4,926.1L691.2,928.4L691.2,932.4L687.2,932.4L685.4,930.1ZM693.2,936L697.2,936L699,938.3L699,942.3L695,942.3L693.2,940ZM700.9,945.8L704.9,945.8L706.7,948.1L706.7,952.1L702.7,952.1L700.9,949.8ZM708.7,955.6L712.7,955.6L714.5,957.9L714.5,961.9L710.5,961.9L708.7,959.6ZM716.4,965.4L720.4,965.4L722.3,967.7L722.3,971.7L718.3,971.7L716.4,969.4ZM724.3,975.2L728.3,975.2L730.2,977.5L730.2,981.5L726.2,981.5L724.3,979.2ZM732.2,984.8L736.2,984.8L738.1,987.1L738.1,991.1L734.1,991.1L732.2,988.8ZM740.2,994.5L744.2,994.5L746,996.8L746,1000.8L742,1000.8L740.2,998.5ZM748.1,1004.2L752.1,1004.2L754,1006.5L754,1010.5L750,1010.5L748.1,1008.2ZM756,1013.9L760,1013.9L761.9,1016.2L761.9,1020.2L757.9,1020.2L756,1017.9ZM763.9,1023.6L767.9,1023.6L769.8,1025.9L769.8,1029.9L765.8,1029.9L763.9,1027.6ZM772.2,1033L776.2,1033L778.3,1035.3L778.3,1039.3L774.3,1039.3L772.2,1037ZM780.7,1042.2L784.7,1042.2L786.8,1044.5L786.8,1048.5L782.8,1048.5L780.7,1046.2ZM789.2,1051.4L793.2,1051.4L795.3,1053.7L795.3,1057.7L791.3,1057.7L789.2,1055.4ZM797.7,1060.6L801.7,1060.6L803.8,1062.9L803.8,1066.9L799.8,1066.9L797.7,1064.6ZM806.1,1069.8L810.1,1069.8L812.3,1072.1L812.3,1076.1L808.3,1076.1L806.1,1073.8ZM814.7,1078.9L818.7,1078.9L821,1080.9L821,1084.9L817,1084.9L814.7,1082.9ZM824.2,1087L828.2,1087L830.5,1089L830.5,1093L826.5,1093L824.2,1091ZM833.7,1095.2L837.7,1095.2L840,1097.1L840,1101.1L836,1101.1L833.7,1099.2ZM843.2,1103.3L847.2,1103.3L849.5,1105.3L849.5,1109.3L845.5,1109.3L843.2,1107.3ZM852.8,1111.4L856.8,1111.4L859.1,1113.4L859.1,1117.4L855.1,1117.4L852.8,1115.4ZM862.4,1119.2L866.4,1119.2L868.7,1120L868.7,1124L864.7,1124L862.4,1123.2ZM874.4,1123L878.4,1123L880.7,1123.7L880.7,1127.7L876.7,1127.7L874.4,1127ZM886.3,1126.8L890.3,1126.8L892.6,1127.5L892.6,1131.5L888.6,1131.5L886.3,1130.8ZM898.2,1130.5L902.2,1130.5L904.5,1131.3L904.5,1135.3L900.5,1135.3L898.2,1134.5ZM910,1134.7L914,1134.7L916.3,1136.5L916.3,1140.5L912.3,1140.5L910,1138.7ZM919.8,1142.5L923.8,1142.5L926.1,1144.3L926.1,1148.3L922.1,1148.3L919.8,1146.5ZM929.6,1150.2L933.6,1150.2L935.9,1152L935.9,1156L931.9,1156L929.6,1154.2ZM939.5,1158L943.5,1158L945.8,1159.8L945.8,1163.8L941.8,1163.8L939.5,1162ZM949.3,1165.7L953.3,1165.7L955.6,1167.5L955.6,1171.5L951.6,1171.5L949.3,1169.7ZM958.4,1174.1L962.4,1174.1L964.2,1176.4L964.2,1180.4L960.2,1180.4L958.4,1178.1ZM966.1,1184L970.1,1184L971.8,1186.3L971.8,1190.3L967.8,1190.3L966.1,1188ZM973.7,1194L977.7,1194L979.4,1196.3L979.4,1200.3L975.4,1200.3L973.7,1198ZM981.3,1203.9L985.3,1203.9L987.1,1206.2L987.1,1210.2L983.1,1210.2L981.3,1207.9ZM988.9,1213.8L992.9,1213.8L994.7,1216.1L994.7,1220.1L990.7,1220.1L988.9,1217.8ZM996.5,1223.7L1000.5,1223.7L1002.3,1226L1002.3,1230L998.3,1230L996.5,1227.7ZM1004.3,1233.5L1008.3,1233.5L1010.6,1235.5L1010.6,1239.5L1006.6,1239.5L1004.3,1237.5ZM1013.8,1241.7L1017.8,1241.7L1020.1,1243.7L1020.1,1247.7L1016.1,1247.7L1013.8,1245.7ZM1023.3,1249.9L1027.3,1249.9L1029.6,1251.9L1029.6,1255.9L1025.6,1255.9L1023.3,1253.9ZM1032.7,1258.1L1036.7,1258.1L1039,1260.1L1039,1264.1L1035,1264.1L1032.7,1262.1ZM1042.2,1266.3L1046.2,1266.3L1048.5,1268.3L1048.5,1272.3L1044.5,1272.3L1042.2,1270.3ZM1051.8,1274.2L1055.8,1274.2L1058.1,1275.5L1058.1,1279.5L1054.1,1279.5L1051.8,1278.2ZM1062.8,1280.2L1066.8,1280.2L1069.1,1281.5L1069.1,1285.5L1065.1,1285.5L1062.8,1284.2ZM1073.8,1286.2L1077.8,1286.2L1080.1,1287.5L1080.1,1291.5L1076.1,1291.5L1073.8,1290.2ZM1084.8,1292.2L1088.8,1292.2L1091.1,1293.5L1091.1,1297.5L1087.1,1297.5L1084.8,1296.2ZM1095.7,1298.2L1099.7,1298.2L1101.9,1299.4L1101.9,1303.4L1097.9,1303.4L1095.7,1302.2ZM1108,1299.5L1114.3,1299.5L1114.3,1303.5L1108,1303.5ZM1120.5,1299.6L1124.5,1299.6L1126.8,1299.7L1126.8,1303.7L1122.8,1303.7L1120.5,1303.6ZM1133,1299.8L1139.3,1299.8L1139.3,1303.8L1133,1303.8ZM1145.5,1299.8L1147.8,1298.8L1151.8,1298.8L1151.8,1302.8L1149.5,1303.8L1145.5,1303.8ZM1156.9,1294.8L1159.2,1293.8L1163.2,1293.8L1163.2,1297.8L1160.9,1298.8L1156.9,1298.8ZM1168.4,1289.8L1170.7,1288.8L1174.7,1288.8L1174.7,1292.8L1172.4,1293.8L1168.4,1293.8ZM1179.9,1284.8L1182.2,1283.8L1186.2,1283.8L1186.2,1287.8L1183.9,1288.8L1179.9,1288.8ZM1191.4,1279.8L1192.4,1279.3L1196.4,1279.3L1196.4,1283.3L1195.4,1283.8L1191.4,1283.8ZM1192.4,1279.3L1196.4,1279.3L1197.7,1279.8L1197.7,1283.8L1193.7,1283.8L1192.4,1283.3ZM1202.8,1283.8L1206.8,1283.8L1209.1,1284.8L1209.1,1288.8L1205.1,1288.8L1202.8,1287.8ZM1214.3,1288.8L1218.3,1288.8L1220.6,1289.9L1220.6,1293.9L1216.6,1293.9L1214.3,1292.8ZM1225.8,1293.8L1229.8,1293.8L1232.1,1294.9L1232.1,1298.9L1228.1,1298.9L1225.8,1297.8ZM1237.2,1298.9L1241.2,1298.9L1243.5,1299.9L1243.5,1303.9L1239.5,1303.9L1237.2,1302.9ZM1239.7,1299.9L1243.7,1299.9L1244.1,1300.3L1244.1,1304.3L1240.1,1304.3L1239.7,1303.9ZM1246.6,1306.9L1250.6,1306.9L1252.9,1309.2L1252.9,1313.2L1248.9,1313.2L1246.6,1310.9ZM1255.5,1315.8L1259.5,1315.8L1261.8,1318.1L1261.8,1322.1L1257.8,1322.1L1255.5,1319.8ZM1264.3,1324.6L1268.3,1324.6L1270.6,1326.9L1270.6,1330.9L1266.6,1330.9L1264.3,1328.6ZM1273.2,1333.5L1277.2,1333.5L1279.5,1335.8L1279.5,1339.8L1275.5,1339.8L1273.2,1337.5ZM1282,1342.3L1286,1342.3L1288.3,1344.6L1288.3,1348.6L1284.3,1348.6L1282,1346.3ZM1291.8,1350L1295.8,1350L1298.1,1351.2L1298.1,1355.2L1294.1,1355.2L1291.8,1354ZM1302.7,1356.1L1306.7,1356.1L1309,1357.4L1309,1361.4L1305,1361.4L1302.7,1360.1ZM1313.6,1362.2L1317.6,1362.2L1319.9,1363.5L1319.9,1367.5L1315.9,1367.5L1313.6,1366.2ZM1324.5,1368.4L1328.5,1368.4L1330.8,1369.7L1330.8,1373.7L1326.8,1373.7L1324.5,1372.4ZM1335.4,1373.1L1337.7,1371.9L1341.7,1371.9L1341.7,1375.9L1339.4,1377.1L1335.4,1377.1ZM1346.5,1367.2L1348.8,1366L1352.8,1366L1352.8,1370L1350.5,1371.2L1346.5,1371.2ZM1357.5,1361.3L1359.8,1360.1L1363.8,1360.1L1363.8,1364.1L1361.5,1365.3L1357.5,1365.3ZM1368.6,1355.5L1370.9,1354.2L1374.9,1354.2L1374.9,1358.2L1372.6,1359.5L1368.6,1359.5ZM1379.6,1349.6L1381.4,1348.6L1385.4,1348.6L1385.4,1352.6L1383.6,1353.6L1379.6,1353.6ZM1381.4,1348.6L1381.6,1348.2L1385.6,1348.2L1385.6,1352.2L1385.4,1352.6L1381.4,1352.6ZM1385.4,1338.9L1386.3,1336.6L1390.3,1336.6L1390.3,1340.6L1389.4,1342.9L1385.4,1342.9ZM1390.2,1327.4L1391.1,1325.1L1395.1,1325.1L1395.1,1329.1L1394.2,1331.4L1390.2,1331.4ZM1394.9,1315.8L1395.9,1313.5L1399.9,1313.5L1399.9,1317.5L1398.9,1319.8L1394.9,1319.8ZM1399.7,1304.2L1400.7,1301.9L1404.7,1301.9L1404.7,1305.9L1403.7,1308.2L1399.7,1308.2ZM1404.5,1292.6L1405.4,1290.3L1409.4,1290.3L1409.4,1294.3L1408.5,1296.6L1404.5,1296.6ZM1409.3,1281.1L1410.2,1278.8L1414.2,1278.8L1414.2,1282.8L1413.3,1285.1L1409.3,1285.1ZM1414,1269.5L1415,1267.2L1419,1267.2L1419,1271.2L1418,1273.5L1414,1273.5ZM1418.8,1257.9L1419.8,1255.6L1423.8,1255.6L1423.8,1259.6L1422.8,1261.9L1418.8,1261.9ZM1423.6,1246.4L1424.5,1244.1L1428.5,1244.1L1428.5,1248.1L1427.6,1250.4L1423.6,1250.4ZM1428.4,1234.8L1428.7,1234.1L1432.7,1234.1L1432.7,1238.1L1432.4,1238.8L1428.4,1238.8ZM1428.7,1234.1L1429.7,1232.4L1433.7,1232.4L1433.7,1236.4L1432.7,1238.1L1428.7,1238.1ZM1435.1,1224.3L1436.6,1222L1440.6,1222L1440.6,1226L1439.1,1228.3L1435.1,1228.3ZM1442,1213.8L1443.5,1211.5L1447.5,1211.5L1447.5,1215.5L1446,1217.8L1442,1217.8ZM1448.9,1203.4L1450.4,1201.1L1454.4,1201.1L1454.4,1205.1L1452.9,1207.4L1448.9,1207.4ZM1455.8,1193L1457.3,1190.7L1461.3,1190.7L1461.3,1194.7L1459.8,1197L1455.8,1197ZM1462.7,1182.5L1464.2,1180.2L1468.2,1180.2L1468.2,1184.2L1466.7,1186.5L1462.7,1186.5ZM1469.6,1172.1L1471.1,1169.8L1475.1,1169.8L1475.1,1173.8L1473.6,1176.1L1469.6,1176.1ZM1476.9,1162.8L1480.9,1162.8L1483.2,1163.4L1483.2,1167.4L1479.2,1167.4L1476.9,1166.8ZM1489,1166.1L1493,1166.1L1495.3,1166.7L1495.3,1170.7L1491.3,1170.7L1489,1170.1ZM1501.1,1169.4L1505.1,1169.4L1507.4,1170L1507.4,1174L1503.4,1174L1501.1,1173.4ZM1513.1,1172.7L1517.1,1172.7L1519.4,1173.3L1519.4,1177.3L1515.4,1177.3L1513.1,1176.7ZM1525,1176.4L1529,1176.4L1531.3,1177.7L1531.3,1181.7L1527.3,1181.7L1525,1180.4ZM1536,1182.4L1540,1182.4L1542.3,1183.7L1542.3,1187.7L1538.3,1187.7L1536,1186.4ZM1547,1188.4L1551,1188.4L1553.3,1189.7L1553.3,1193.7L1549.3,1193.7L1547,1192.4ZM1558,1194.4L1562,1194.4L1564.3,1195.7L1564.3,1199.7L1560.3,1199.7L1558,1198.4ZM1569,1200.4L1573,1200.4L1574.4,1201.2L1574.4,1205.2L1570.4,1205.2L1569,1204.4ZM1570.4,1201.2L1571.2,1200.9L1575.2,1200.9L1575.2,1204.9L1574.4,1205.2L1570.4,1205.2ZM1580.7,1197.7L1583,1196.9L1587,1196.9L1587,1200.9L1584.7,1201.7L1580.7,1201.7ZM1592.5,1193.6L1594.8,1192.8L1598.8,1192.8L1598.8,1196.8L1596.5,1197.6L1592.5,1197.6ZM1604.3,1189.5L1606.6,1188.7L1610.6,1188.7L1610.6,1192.7L1608.3,1193.5L1604.3,1193.5ZM1616.2,1185.4L1617.7,1184.9L1621.7,1184.9L1621.7,1188.9L1620.2,1189.4L1616.2,1189.4ZM1617.7,1184.9L1618.8,1183.7L1622.8,1183.7L1622.8,1187.7L1621.7,1188.9L1617.7,1188.9ZM1625.4,1177.2L1627.7,1174.9L1631.7,1174.9L1631.7,1178.9L1629.4,1181.2L1625.4,1181.2ZM1634.3,1168.4L1636.6,1166.1L1640.6,1166.1L1640.6,1170.1L1638.3,1172.4L1634.3,1172.4ZM1643.2,1159.6L1645.5,1157.3L1649.5,1157.3L1649.5,1161.3L1647.2,1163.6L1643.2,1163.6ZM1652.1,1150.8L1654.4,1148.5L1658.4,1148.5L1658.4,1152.5L1656.1,1154.8L1652.1,1154.8ZM1661,1142L1663.3,1139.7L1667.3,1139.7L1667.3,1143.7L1665,1146L1661,1146ZM1668.7,1132.2L1670.2,1129.9L1674.2,1129.9L1674.2,1133.9L1672.7,1136.2L1668.7,1136.2ZM1675.4,1121.6L1676.9,1119.3L1680.9,1119.3L1680.9,1123.3L1679.4,1125.6L1675.4,1125.6ZM1682.1,1111.1L1683.6,1108.8L1687.6,1108.8L1687.6,1112.8L1686.1,1115.1L1682.1,1115.1ZM1688.8,1100.5L1690.3,1098.2L1694.3,1098.2L1694.3,1102.2L1692.8,1104.5L1688.8,1104.5ZM1695.5,1089.9L1697,1087.6L1701,1087.6L1701,1091.6L1699.5,1093.9L1695.5,1093.9ZM1702.3,1079.4L1703.7,1077.1L1707.7,1077.1L1707.7,1081.1L1706.3,1083.4L1702.3,1083.4ZM1709,1068.8L1710.4,1066.5L1714.4,1066.5L1714.4,1070.5L1713,1072.8L1709,1072.8ZM1714.5,1057.7L1715.4,1055.4L1719.4,1055.4L1719.4,1059.4L1718.5,1061.7L1714.5,1061.7ZM1719,1046L1719.9,1043.7L1723.9,1043.7L1723.9,1047.7L1723,1050L1719,1050ZM1723.5,1034.3L1724.4,1032L1728.4,1032L1728.4,1036L1727.5,1038.3L1723.5,1038.3ZM1728,1022.6L1728.9,1020.3L1732.9,1020.3L1732.9,1024.3L1732,1026.6L1728,1026.6ZM1732.5,1010.9L1733.4,1008.6L1737.4,1008.6L1737.4,1012.6L1736.5,1014.9L1732.5,1014.9ZM1737,999.3L1737.8,997L1741.8,997L1741.8,1001L1741,1003.3L1737,1003.3ZM1741.5,987.6L1742.3,985.3L1746.3,985.3L1746.3,989.3L1745.5,991.6L1741.5,991.6ZM1745.9,975.9L1746.8,973.6L1750.8,973.6L1750.8,977.6L1749.9,979.9L1745.9,979.9ZM1750.4,964.2L1751.3,961.9L1755.3,961.9L1755.3,965.9L1754.4,968.2L1750.4,968.2ZM1754.9,952.5L1755.8,950.2L1759.8,950.2L1759.8,954.2L1758.9,956.5L1754.9,956.5ZM1759.4,940.9L1760.5,938.6L1764.5,938.6L1764.5,942.6L1763.4,944.9L1759.4,944.9ZM1764.7,929.5L1765.7,927.2L1769.7,927.2L1769.7,931.2L1768.7,933.5L1764.7,933.5ZM1769.9,918.1L1771,915.8L1775,915.8L1775,919.8L1773.9,922.1L1769.9,922.1ZM1775.1,906.8L1776.2,904.5L1780.2,904.5L1780.2,908.5L1779.1,910.8L1775.1,910.8ZM1780.4,895.4L1781.4,893.1L1785.4,893.1L1785.4,897.1L1784.4,899.4L1780.4,899.4ZM1785.6,884L1786.7,881.7L1790.7,881.7L1790.7,885.7L1789.6,888L1785.6,888ZM1790.9,872.7L1791.9,870.4L1795.9,870.4L1795.9,874.4L1794.9,876.7L1790.9,876.7ZM1796.1,861.3L1797.2,859L1801.2,859L1801.2,863L1800.1,865.3L1796.1,865.3ZM1801.3,849.9L1802.4,847.6L1806.4,847.6L1806.4,851.6L1805.3,853.9L1801.3,853.9ZM1806.6,838.6L1806.7,838.4L1810.7,838.4L1810.7,842.4L1810.6,842.6L1806.6,842.6ZM1806.7,838.4L1808.1,836.3L1812.1,836.3L1812.1,840.3L1810.7,842.4L1806.7,842.4ZM1813.6,828.2L1815.2,825.9L1819.2,825.9L1819.2,829.9L1817.6,832.2L1813.6,832.2ZM1820.7,817.9L1822.2,815.6L1826.2,815.6L1826.2,819.6L1824.7,821.9L1820.7,821.9ZM1827.7,807.5L1829.3,805.2L1833.3,805.2L1833.3,809.2L1831.7,811.5L1827.7,811.5ZM1834.8,797.2L1836.3,794.9L1840.3,794.9L1840.3,798.9L1838.8,801.2L1834.8,801.2ZM1841.8,786.9L1843.4,784.6L1847.4,784.6L1847.4,788.6L1845.8,790.9L1841.8,790.9ZM1848.9,776.5L1850.5,774.2L1854.5,774.2L1854.5,778.2L1852.9,780.5L1848.9,780.5ZM1856,766.3L1857.7,764L1861.7,764L1861.7,768L1860,770.3L1856,770.3ZM1863.4,756.1L1865,753.8L1869,753.8L1869,757.8L1867.4,760.1L1863.4,760.1ZM1870.7,746L1872.4,743.7L1876.4,743.7L1876.4,747.7L1874.7,750L1870.7,750ZM1878,735.8L1879.7,733.5L1883.7,733.5L1883.7,737.5L1882,739.8L1878,739.8ZM1885.4,725.7L1887,723.4L1891,723.4L1891,727.4L1889.4,729.7L1885.4,729.7ZM1892.7,715.6L1894.4,713.3L1898.4,713.3L1898.4,717.3L1896.7,719.6L1892.7,719.6ZM1900,705.4L1901.2,703.9L1905.2,703.9L1905.2,707.9L1904,709.4L1900,709.4ZM1901.2,703.9L1901.5,703.3L1905.5,703.3L1905.5,707.3L1905.2,707.9L1901.2,707.9ZM1906,694.4L1907.1,692.1L1911.1,692.1L1911.1,696.1L1910,698.4L1906,698.4ZM1911.6,683.3L1912.8,681L1916.8,681L1916.8,685L1915.6,687.3L1911.6,687.3ZM1917.3,672.1L1918.5,669.8L1922.5,669.8L1922.5,673.8L1921.3,676.1L1917.3,676.1ZM1923,660.9L1924.1,658.6L1928.1,658.6L1928.1,662.6L1927,664.9L1923,664.9ZM1928.6,649.8L1929.8,647.5L1933.8,647.5L1933.8,651.5L1932.6,653.8L1928.6,653.8ZM1934.3,638.6L1935.5,636.3L1939.5,636.3L1939.5,640.3L1938.3,642.6L1934.3,642.6ZM1940,627.5L1941.1,625.2L1945.1,625.2L1945.1,629.2L1944,631.5L1940,631.5ZM1945.6,616.3L1946.8,614L1950.8,614L1950.8,618L1949.6,620.3L1945.6,620.3ZM1950.9,605L1951.9,602.7L1955.9,602.7L1955.9,606.7L1954.9,609L1950.9,609ZM1955.9,593.5L1956.9,591.2L1960.9,591.2L1960.9,595.2L1959.9,597.5L1955.9,597.5ZM1960.8,582L1961.8,579.7L1965.8,579.7L1965.8,583.7L1964.8,586L1960.8,586ZM1965.8,570.5L1966.8,568.2L1970.8,568.2L1970.8,572.2L1969.8,574.5L1965.8,574.5ZM1970.7,559L1971.7,556.7L1975.7,556.7L1975.7,560.7L1974.7,563L1970.7,563ZM1975.7,547.5L1976.6,545.2L1980.6,545.2L1980.6,549.2L1979.7,551.5L1975.7,551.5ZM1980.6,536L1981.6,533.7L1985.6,533.7L1985.6,537.7L1984.6,540L1980.6,540ZM1985.5,524.5L1986.5,522.2L1990.5,522.2L1990.5,526.2L1989.5,528.5L1985.5,528.5ZM1990.5,513L1991.5,510.7L1995.5,510.7L1995.5,514.7L1994.5,517L1990.5,517ZM1995.4,501.5L1995.7,501L1999.7,501L1999.7,505L1999.4,505.5L1995.4,505.5Z"/>
<line x1="2087" y1="320" x2="2170" y2="320" stroke="#e5b656" stroke-width="4"/>
<text transform="translate(2187.10,337.80) scale(0.9830,1.0300)" font-size="66">Data (H1)</text>
<line x1="2087" y1="640" x2="2170" y2="640" stroke="#e5b656" stroke-width="4" stroke-dasharray="5.3 4.7"/>
<text transform="translate(2185.80,657.80) scale(0.9830,1.0300)" font-size="66">Noise (H1)</text>
<line x1="2087" y1="960" x2="2170" y2="960" stroke="#b53626" stroke-width="4"/>
<text transform="translate(2187.10,977.80) scale(0.9830,1.0300)" font-size="66">Data (L1)</text>
<line x1="2087" y1="1280" x2="2170" y2="1280" stroke="#b53626" stroke-width="4" stroke-dasharray="5.3 4.7"/>
<text transform="translate(2185.80,1297.80) scale(0.9830,1.0300)" font-size="66">Noise (L1)</text>
<text transform="translate(903.00,73.00) scale(0.9980,1.0400)" font-size="73">Amplitude variance</text>
<text transform="translate(107.10,599.90) rotate(-90) scale(0.9970,1.0400)" font-size="52">Amplitude variance</text>
<text transform="translate(2046.20,1542.90) scale(0.9970,1.0400)" font-size="52" text-anchor="end">Frequency [Hz]</text>
<text transform="translate(160.05,768.40) scale(0.9600,1.0000)" font-size="52">10</text>
<text transform="translate(214.30,748.40)" font-size="34.4">−</text>
<text transform="translate(234.40,745.90)" font-size="34.4">47</text>
<text transform="translate(627.15,1512.00) scale(0.9600,1.0000)" font-size="52">10</text>
<text transform="translate(681.60,1489.00)" font-size="34.4">2</text>
<text transform="translate(1766.05,1512.00) scale(0.9600,1.0000)" font-size="52">10</text>
<text transform="translate(1820.60,1488.80)" font-size="34.4">3</text>
</svg>
</body></html>
